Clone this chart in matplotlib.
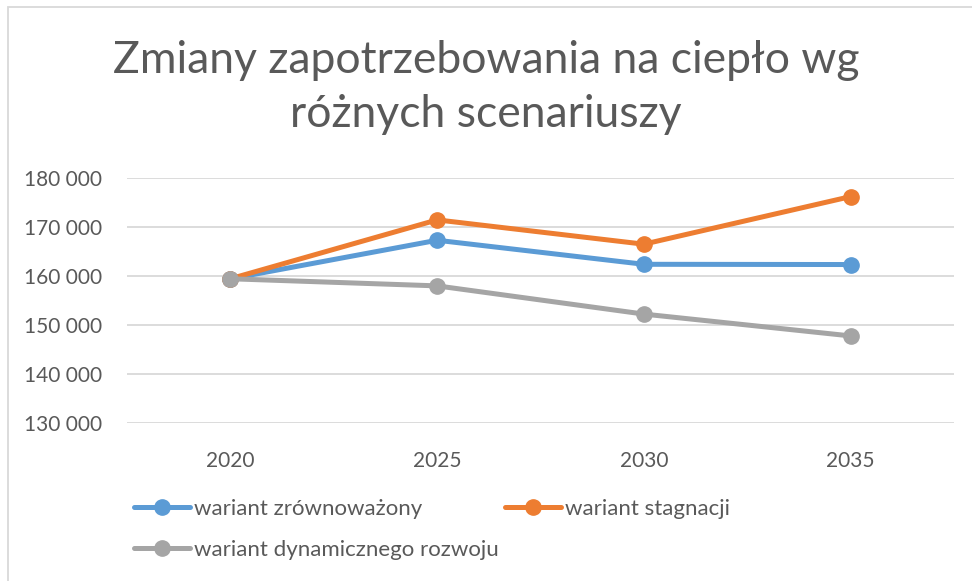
import matplotlib.pyplot as plt
from matplotlib.patches import Rectangle
from matplotlib.ticker import FuncFormatter

# values
years = ['2020', '2025', '2030', '2035']
zrownowazony = [159400, 167250, 162350, 162300]
stagnacji = [159400, 171400, 166450, 176150]
dynamiczny = [159400, 157950, 152200, 147750]

labels = ['wariant zrównoważony', 'wariant stagnacji', 'wariant dynamicznego rozwoju']
colors = ['#5B9BD5', '#ED7D31', '#A5A5A5']
text_color = '#595959'

plt.rcParams['font.family'] = ['Lato', 'DejaVu Sans']

fig = plt.figure(figsize=(9.72, 5.81), dpi=100)
ax = fig.add_axes([127 / 972, 1 - 423 / 581, (954 - 127) / 972, (423 - 177.7) / 581])

x = range(len(years))
handles = []
for vals, lab, c in zip([zrownowazony, stagnacji, dynamiczny], labels, colors):
    h, = ax.plot(x, vals, color=c, lw=3.6, marker='o', ms=11, label=lab,
                 solid_capstyle='round', zorder=3)
    handles.append(h)

ax.set_xlim(-0.5, len(years) - 0.5)
ax.set_ylim(130000, 180000)
ax.set_yticks(range(130000, 180001, 10000))
ax.yaxis.set_major_formatter(FuncFormatter(lambda v, p: f'{int(v):,}'.replace(',', ' ')))
ax.set_xticks(list(x))
ax.set_xticklabels(years)
ax.tick_params(axis='both', length=0, labelsize=15, labelcolor=text_color)
ax.tick_params(axis='y', pad=18)
ax.tick_params(axis='x', pad=20)
ax.grid(axis='y', color='#D9D9D9', lw=1.3)
ax.set_axisbelow(True)
for s in ax.spines.values():
    s.set_visible(False)

fig.text(0.50, 0.85, 'Zmiany zapotrzebowania na ciepło wg\nróżnych scenariuszy',
         ha='center', va='center', fontsize=32, color=text_color, linespacing=1.4)

# legend: order so rows read blue, orange / gray
order = [0, 2, 1]
leg = fig.legend([handles[i] for i in order], [labels[i] for i in order],
                 ncol=2, loc='upper left', bbox_to_anchor=(114 / 972, 1 - 479 / 581),
                 frameon=False, fontsize=16, handlelength=2.5, handletextpad=0.2,
                 columnspacing=0.3, labelspacing=0.95, labelcolor=text_color)

# chart frame (cut off at right and bottom)
fig.patches.append(Rectangle((8 / 972, -0.1), 1.2, 1 - 7 / 581 + 0.1,
                             transform=fig.transFigure, fill=False,
                             edgecolor='#D9D9D9', lw=1.3))

fig.savefig('out.png', dpi=100)
